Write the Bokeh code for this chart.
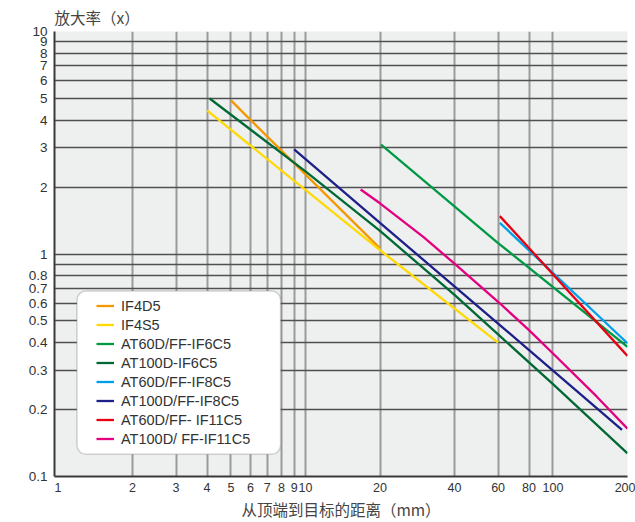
from bokeh.plotting import figure
from bokeh.models import (Range1d, FixedTicker, CustomJSTickFormatter, Legend,
                          LegendItem, BoxAnnotation)
from bokeh.embed import file_html
from bokeh.resources import INLINE

# ---- data ----
names = ["IF4D5", "IF4S5", "AT60D/FF-IF6C5", "AT100D-IF6C5", "AT60D/FF-IF8C5",
         "AT100D/FF-IF8C5", "AT60D/FF- IF11C5", "AT100D/ FF-IF11C5"]
colors = ["#F39800", "#FFD900", "#009944", "#006934", "#00A0E9",
          "#1D2088", "#E60012", "#E4007F"]

if4d5_x = [5, 20]
if4d5_y = [4.9, 1.06]
if4s5_x = [4, 20, 60]
if4s5_y = [4.42, 1.04, 0.40]
at60_if6_x = [20.2, 60, 200]
at60_if6_y = [3.1, 1.12, 0.383]
at100_if6_x = [4.1, 10, 20, 40, 60, 100, 200]
at100_if6_y = [5.0, 2.35, 1.27, 0.655, 0.435, 0.26, 0.127]
at60_if8_x = [61, 200]
at60_if8_y = [1.38, 0.397]
at100_if8_x = [9, 20, 60, 190]
at100_if8_y = [2.95, 1.38, 0.487, 0.162]
at60_if11_x = [61, 200]
at60_if11_y = [1.48, 0.348]
at100_if11_x = [16.7, 20, 30, 40, 60, 80, 100, 150, 200]
at100_if11_y = [1.95, 1.69, 1.19, 0.905, 0.61, 0.455, 0.357, 0.229, 0.164]

series_x = [if4d5_x, if4s5_x, at60_if6_x, at100_if6_x, at60_if8_x,
            at100_if8_x, at60_if11_x, at100_if11_x]
series_y = [if4d5_y, if4s5_y, at60_if6_y, at100_if6_y, at60_if8_y,
            at100_if8_y, at60_if11_y, at100_if11_y]

x_ticks = [1, 2, 3, 4, 5, 6, 7, 8, 9, 10, 20, 40, 60, 80, 100, 200]
x_grid = [2, 3, 4, 5, 6, 7, 8, 9, 10, 20, 40, 60, 80, 100, 200]
y_ticks = [0.1, 0.2, 0.3, 0.4, 0.5, 0.6, 0.7, 0.8, 1, 2, 3, 4, 5, 6, 7, 8, 9, 10]
y_grid = [0.2, 0.3, 0.4, 0.5, 0.6, 0.7, 0.8, 0.9, 1, 2, 3, 4, 5, 6, 7, 8, 9, 10]

y_title = "放大率（x）"
x_title = "从顶端到目标的距离（mm）"

# ---- figure ----
p = figure(width=635, height=522, x_axis_type="log", y_axis_type="log",
           x_range=Range1d(0.968, 200), y_range=Range1d(0.1, 10),
           output_backend="svg", toolbar_location=None,
           min_border_left=54, min_border_right=8, min_border_top=31,
           min_border_bottom=45, title=y_title)

p.background_fill_color = "#EEEFEF"
p.border_fill_color = "white"
p.outline_line_color = None

p.title.text_font = "Noto Sans CJK SC"
p.title.text_font_size = "15.5px"
p.title.text_font_style = "normal"
p.title.text_color = "#444444"
p.title.align = "left"
p.title.standoff = 7

fmt = CustomJSTickFormatter(code="return String(tick);")

p.xaxis.ticker = FixedTicker(ticks=x_ticks)
p.yaxis.ticker = FixedTicker(ticks=y_ticks)
p.xaxis.formatter = fmt
p.yaxis.formatter = fmt
for ax in (p.xaxis, p.yaxis):
    ax.major_tick_line_color = None
    ax.minor_tick_line_color = None
    ax.major_tick_out = 0
    ax.major_tick_in = 0
    ax.axis_line_color = "#3a3a3a"
    ax.axis_line_width = 2
    ax.major_label_text_font = "Liberation Sans"
    ax.major_label_text_color = "#333333"
p.xaxis.major_label_text_font_size = "12.5px"
p.yaxis.major_label_text_font_size = "13.5px"
p.xaxis.major_label_standoff = 6
p.yaxis.major_label_standoff = 7

p.xaxis.axis_label = x_title
p.xaxis.axis_label_text_font = "Noto Sans CJK SC"
p.xaxis.axis_label_text_font_size = "15.5px"
p.xaxis.axis_label_text_font_style = "normal"
p.xaxis.axis_label_text_color = "#444444"
p.xaxis.axis_label_standoff = 3

p.xgrid.ticker = FixedTicker(ticks=x_grid)
p.xgrid.grid_line_color = "#9a9a9a"
p.xgrid.grid_line_width = 2
p.ygrid.ticker = FixedTicker(ticks=y_grid)
p.ygrid.grid_line_color = "#505050"
p.ygrid.grid_line_width = 1.5

renderers = []
for xs, ys, c in zip(series_x, series_y, colors):
    renderers.append(p.line(xs, ys, line_color=c, line_width=2.3))

# legend background box with rounded corners
box = BoxAnnotation(left=1.193, right=7.93, top=0.682, bottom=0.1258,
                    fill_color="white", fill_alpha=1.0,
                    line_color="#707070", line_width=1.5, border_radius=9,
                    level="overlay")
p.add_layout(box)

legend = Legend(items=[LegendItem(label=n, renderers=[r]) for n, r in zip(names, renderers)],
                location=(42, 29), padding=0, margin=0, spacing=2,
                label_height=17, glyph_height=17, glyph_width=18, label_standoff=7,
                label_text_font="Liberation Sans", label_text_font_size="14.5px",
                label_text_color="#333333",
                background_fill_alpha=0, border_line_color=None)
p.add_layout(legend, "center")

open("out.html", "w").write(file_html(p, INLINE))
